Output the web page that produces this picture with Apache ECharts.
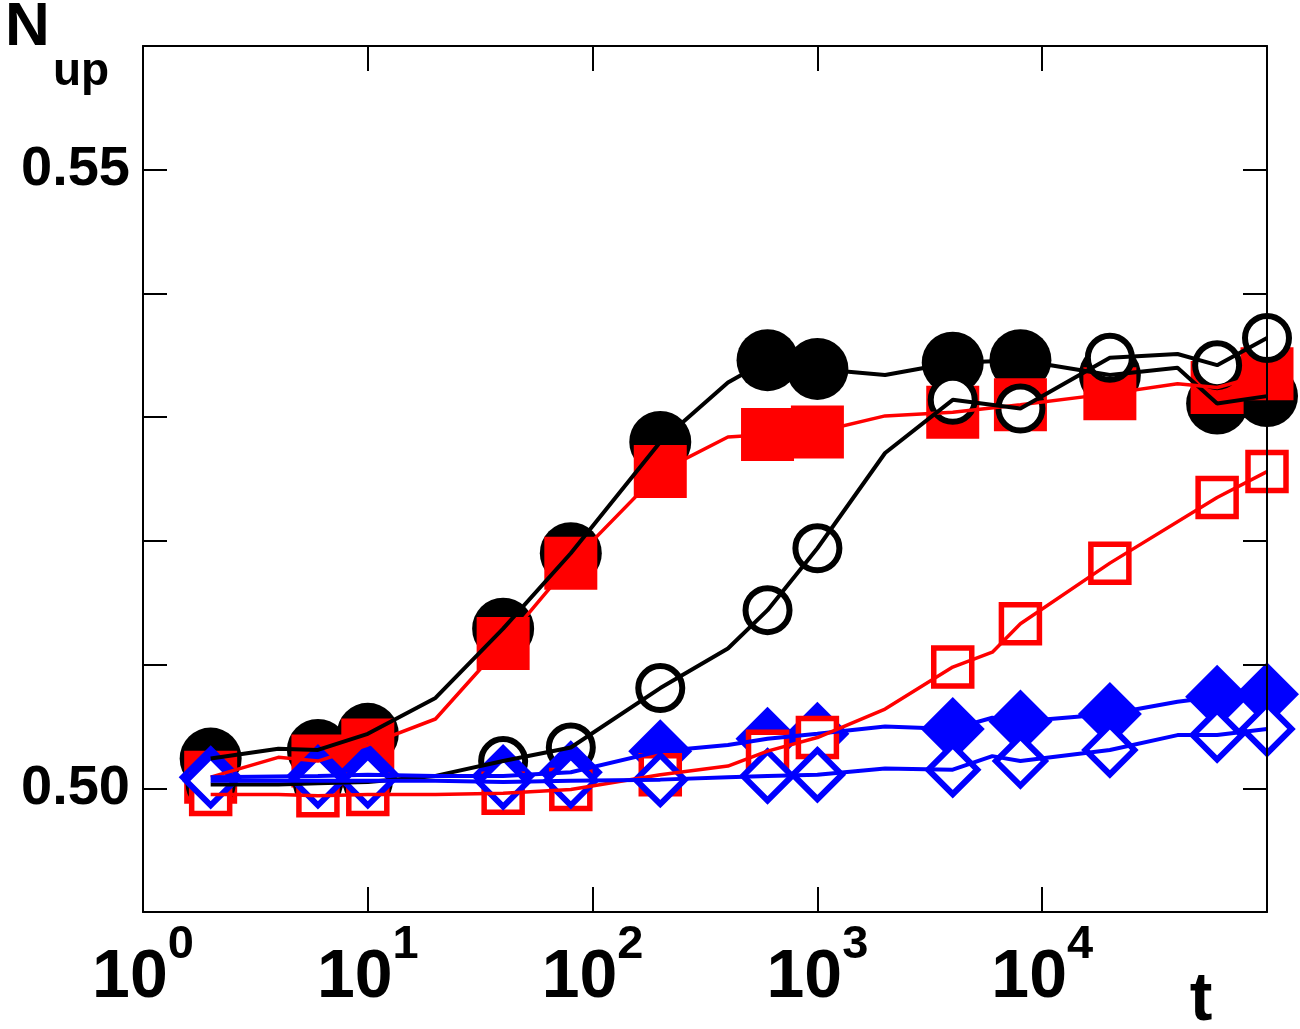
<!DOCTYPE html>
<html>
<head>
<meta charset="utf-8">
<script src="https://cdn.jsdelivr.net/npm/echarts@6/dist/echarts.min.js"></script>
<style>html,body{margin:0;padding:0;background:#fff;}#c{width:1300px;height:1029px;}</style>
</head>
<body>
<div id="c"></div>
<script>
// ---- data ----
const markerT = [2, 6, 10, 40, 80, 200, 600, 1000, 4000, 8000, 20000, 60000, 100000];

const tA = [2, 4, 6, 10, 20, 40, 80, 200, 400, 600, 1000, 2000, 4000, 8000, 20000, 40000, 60000, 100000];
const vA = [0.5024, 0.5032, 0.5031, 0.5044, 0.5073, 0.5129, 0.5190, 0.5280, 0.5328, 0.5346, 0.5339, 0.5334, 0.5344, 0.5346, 0.5334, 0.5340, 0.5311, 0.5317];
const vB = [0.5009, 0.5025, 0.5022, 0.5035, 0.5056, 0.5117, 0.5182, 0.5256, 0.5284, 0.5286, 0.5288, 0.5301, 0.5304, 0.5310, 0.5319, 0.5327, 0.5324, 0.5335];
const vC = [0.5003, 0.5003, 0.5004, 0.5005, 0.5010, 0.5022, 0.5033, 0.5081, 0.5113, 0.5144, 0.5194, 0.5271, 0.5314, 0.5307, 0.5348, 0.5351, 0.5342, 0.5364];

const tD = [2, 4, 6, 10, 20, 40, 80, 200, 400, 600, 1000, 2000, 4000, 6000, 8000, 20000, 60000, 100000];
const vD = [0.4995, 0.4995, 0.4994, 0.4995, 0.4995, 0.4996, 0.4999, 0.5011, 0.5018, 0.5030, 0.5041, 0.5064, 0.5098, 0.5110, 0.5133, 0.5182, 0.5235, 0.5256];

const tE = [2, 6, 10, 20, 40, 80, 200, 400, 600, 1000, 2000, 4000, 6000, 8000, 20000, 40000, 60000, 100000];
const vE = [0.5009, 0.5010, 0.5011, 0.5010, 0.5010, 0.5013, 0.5030, 0.5035, 0.5040, 0.5044, 0.5050, 0.5048, 0.5057, 0.5054, 0.5060, 0.5070, 0.5074, 0.5076];
const vF = [0.5006, 0.5006, 0.5006, 0.5006, 0.5005, 0.5006, 0.5007, 0.5009, 0.5010, 0.5011, 0.5016, 0.5015, 0.5026, 0.5022, 0.5031, 0.5043, 0.5043, 0.5048];

const yTickValues = [0.50, 0.55];
const yTickLabels = ['0.50', '0.55'];

// ---- build ----
const FONT = 'Liberation Sans, Arial, Helvetica, sans-serif';
function pairs(t, v) { return t.map((x, i) => [x, v[i]]); }
function marks(t, v) { return pairs(t, v).filter(p => markerT.indexOf(p[0]) >= 0); }

function lineS(t, v, color, w) {
  return { type: 'line', data: pairs(t, v), showSymbol: false, symbol: 'none', clip: false,
    lineStyle: { color: color, width: w }, silent: true, animation: false };
}
function scatS(t, v, symbol, size, fill, border, bw) {
  return { type: 'scatter', data: marks(t, v), symbol: symbol, symbolSize: size, clip: false,
    itemStyle: { color: fill, borderColor: border, borderWidth: bw, opacity: 1 }, silent: true, animation: false };
}

const series = [
  lineS(tA, vA, '#000', 4), scatS(tA, vA, 'circle', 62, '#000', '#000', 0),
  lineS(tA, vB, '#ff0000', 3.5), scatS(tA, vB, 'rect', 53, '#ff0000', '#ff0000', 0),
  lineS(tA, vC, '#000', 4), scatS(tA, vC, 'circle', 44, '#fff', '#000', 6),
  lineS(tE, vE, '#0000ff', 4), scatS(tE, vE, 'diamond', 64, '#0000ff', '#0000ff', 0),
  lineS(tD, vD, '#ff0000', 3.5), scatS(tD, vD, 'rect', 38, '#fff', '#ff0000', 5.5),
  lineS(tE, vF, '#0000ff', 4), scatS(tE, vF, 'diamond', 49, '#fff', '#0000ff', 6)
];

const axLine = { show: true, lineStyle: { color: '#000', width: 2 } };
const chart = echarts.init(document.getElementById('c'), null, { renderer: 'canvas' });
chart.setOption({
  backgroundColor: '#fff',
  animation: false,
  grid: { left: 143, right: 33, top: 46, bottom: 117, containLabel: false },
  xAxis: [
    { type: 'log', logBase: 10, min: 1, max: 100000, position: 'bottom', z: 10,
      axisLine: axLine, splitLine: { show: false }, minorTick: { show: false },
      axisTick: { show: true, inside: true, length: 25, lineStyle: { color: '#000', width: 2 } },
      axisLabel: { show: true, margin: 10, color: '#000',
        formatter: function (v) { const e = Math.round(Math.log10(v)); if (e > 4) return ''; return '{a|10}{b|' + e + '}'; },
        rich: {
          a: { fontSize: 68, fontWeight: 'bold', fontFamily: FONT, color: '#000', lineHeight: 113 },
          b: { fontSize: 47, fontWeight: 'bold', fontFamily: FONT, color: '#000', lineHeight: 46, verticalAlign: 'top' }
        } } },
    { type: 'log', logBase: 10, min: 1, max: 100000, position: 'top', z: 10,
      axisLine: axLine, splitLine: { show: false },
      axisTick: { show: true, inside: true, length: 25, lineStyle: { color: '#000', width: 2 } },
      axisLabel: { show: false } }
  ],
  yAxis: [
    { type: 'value', min: 0.49, max: 0.56, interval: 0.01, position: 'left', z: 10,
      axisLine: axLine, splitLine: { show: false },
      axisTick: { show: true, inside: true, length: 24, lineStyle: { color: '#000', width: 2 } },
      axisLabel: { show: true, margin: 13, color: '#000', fontSize: 56, fontWeight: 'bold', fontFamily: FONT,
        formatter: function (v) {
          for (let i = 0; i < yTickValues.length; i++) { if (Math.abs(v - yTickValues[i]) < 1e-6) return yTickLabels[i]; }
          return '';
        } } },
    { type: 'value', min: 0.49, max: 0.56, interval: 0.01, position: 'right', z: 10,
      axisLine: axLine, splitLine: { show: false },
      axisTick: { show: true, inside: true, length: 24, lineStyle: { color: '#000', width: 2 } },
      axisLabel: { show: false } }
  ],
  series: series,
  graphic: [
    { type: 'text', z: 100, x: 5, y: 28, style: { text: 'N', font: 'bold 62px ' + FONT, fill: '#000', textAlign: 'left', textVerticalAlign: 'middle' } },
    { type: 'text', z: 100, x: 53, y: 72, style: { text: 'up', font: 'bold 46px ' + FONT, fill: '#000', textAlign: 'left', textVerticalAlign: 'middle' } },
    { type: 'text', z: 100, x: 1201, y: 1001, style: { text: 't', font: 'bold 68px ' + FONT, fill: '#000', textAlign: 'center', textVerticalAlign: 'middle' } }
  ]
});
</script>
</body>
</html>
